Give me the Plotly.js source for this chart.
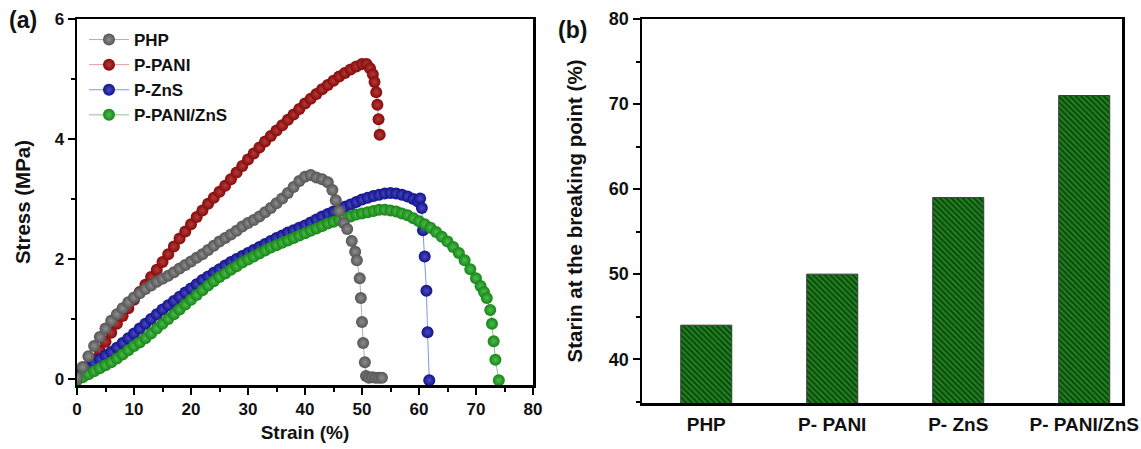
<!DOCTYPE html>
<html>
<head>
<meta charset="utf-8">
<script src="https://cdn.plot.ly/plotly-3.0.1.min.js"></script>
<style>html,body{margin:0;padding:0;background:#fff;}#chart{width:1141px;height:449px;}</style>
</head>
<body>
<div id="chart"></div>
<script>
// ---- Data ----
const phpStrain = [0,1,2,3,4,5,6,7,8,9,10,11,12,13,14,15,16,17,18,19,20,21,22,23,24,25,26,27,28,29,30,31,32,33,34,35,36,37,38,39,40,41,42,43,44,44.8,45.4,46,46.8,47.4,48.2,48.8,49.1,49.6,49.8,50.0,50.2,50.5,50.7,51.2,51.8,52.4,53.0,53.5];
const phpStress = [0.02,0.2,0.38,0.55,0.7,0.84,0.97,1.08,1.18,1.28,1.36,1.43,1.5,1.56,1.62,1.67,1.72,1.78,1.84,1.9,1.96,2.02,2.08,2.15,2.22,2.29,2.35,2.41,2.47,2.54,2.6,2.65,2.71,2.78,2.85,2.93,3.01,3.1,3.2,3.3,3.37,3.4,3.36,3.33,3.28,3.15,2.98,2.8,2.6,2.5,2.3,2.12,1.98,1.68,1.35,0.95,0.6,0.28,0.05,0.02,0.03,0.02,0.02,0.02];

const paniStrain = [0,1,2,3,4,5,6,7,8,9,10,11,12,13,14,15,16,17,18,19,20,21,22,23,24,25,26,27,28,29,30,31,32,33,34,35,36,37,38,39,40,41,42,43,44,45,46,47,48,49,50,50.8,51.4,51.9,52.2,52.5,52.7,52.9,53.1];
const paniStress = [0.05,0.12,0.22,0.33,0.47,0.62,0.77,0.92,1.05,1.18,1.32,1.45,1.57,1.7,1.82,1.95,2.08,2.21,2.34,2.46,2.58,2.7,2.81,2.92,3.02,3.12,3.22,3.33,3.44,3.55,3.66,3.76,3.86,3.96,4.05,4.14,4.23,4.32,4.41,4.5,4.59,4.67,4.75,4.83,4.9,4.97,5.04,5.1,5.16,5.21,5.25,5.25,5.18,5.08,4.95,4.78,4.57,4.33,4.07];

const znsStrain = [0,1,2,3,4,5,6,7,8,9,10,11,12,13,14,15,16,17,18,19,20,21,22,23,24,25,26,27,28,29,30,31,32,33,34,35,36,37,38,39,40,41,42,43,44,45,46,47,48,49,50,51,52,53,54,55,56,57,58,59,59.8,60.2,60.5,60.7,61.0,61.3,61.5,61.8];
const znsStress = [0.05,0.12,0.2,0.27,0.33,0.39,0.45,0.52,0.6,0.68,0.76,0.84,0.92,1.0,1.08,1.16,1.23,1.3,1.37,1.44,1.51,1.58,1.65,1.71,1.77,1.83,1.89,1.95,2.0,2.05,2.1,2.15,2.2,2.25,2.3,2.35,2.39,2.44,2.48,2.52,2.56,2.61,2.66,2.71,2.75,2.79,2.83,2.87,2.91,2.95,2.99,3.02,3.05,3.07,3.09,3.1,3.09,3.07,3.04,3.0,2.96,3.01,2.85,2.48,2.04,1.47,0.78,-0.02];

const pzStrain = [0,1,2,3,4,5,6,7,8,9,10,11,12,13,14,15,16,17,18,19,20,21,22,23,24,25,26,27,28,29,30,31,32,33,34,35,36,37,38,39,40,41,42,43,44,45,46,47,48,49,50,51,52,53,54,55,56,57,58,59,60,61,62,63,64,65,66,67,68,69,70,70.8,71.4,71.9,72.5,72.8,73.1,73.4,74.0];
const pzStress = [-0.02,0.03,0.08,0.13,0.18,0.23,0.28,0.34,0.41,0.48,0.55,0.61,0.68,0.76,0.84,0.92,1.0,1.08,1.16,1.24,1.32,1.4,1.48,1.56,1.63,1.7,1.76,1.82,1.88,1.94,1.99,2.04,2.09,2.14,2.19,2.23,2.27,2.31,2.35,2.39,2.43,2.47,2.51,2.55,2.59,2.62,2.65,2.68,2.71,2.74,2.76,2.78,2.8,2.82,2.82,2.81,2.79,2.76,2.73,2.68,2.63,2.58,2.52,2.45,2.37,2.29,2.2,2.1,1.98,1.83,1.68,1.55,1.45,1.35,1.15,0.92,0.63,0.32,-0.02];

const barCategories = ["PHP", "P- PANI", "P- ZnS", "P- PANI/ZnS"];
const barValues = [44, 50, 59, 71];

const seriesNames = ["PHP", "P-PANI", "P-ZnS", "P-PANI/ZnS"];

// ---- Styles ----
const FONT = "Liberation Sans, Arial, Helvetica, sans-serif";
function curve(name, x, y, dark, light, lineColor, rank) {
  return {
    type: "scatter", mode: "lines+markers", name: name, x: x, y: y,
    xaxis: "x", yaxis: "y", legendrank: rank,
    line: {color: lineColor, width: 1},
    marker: {size: 12, color: dark, line: {width: 0},
             gradient: {type: "radial", color: light}}
  };
}
const traces = [
  curve(seriesNames[1], paniStrain, paniStress, "#850a0a", "#b63a3a", "#e29a9a", 2),
  curve(seriesNames[2], znsStrain, znsStress, "#12128a", "#4a4ac4", "#7f9ad8", 3),
  curve(seriesNames[3], pzStrain, pzStress, "#178617", "#4cbc4c", "#86c886", 4),
  curve(seriesNames[0], phpStrain, phpStress, "#555555", "#8e8e8e", "#b0b0b0", 1),
  {
    type: "bar", x: barCategories, y: barValues, xaxis: "x2", yaxis: "y2",
    width: 0.405, showlegend: false, base: 0,
    marker: {color: "#1c7c1c", line: {color: "#3a3a3a", width: 1},
             pattern: {shape: "\\", fgcolor: "#0b3f0b", bgcolor: "#1f801f", size: 4, solidity: 0.4}}
  }
];

const axisCommon = {
  showline: true, linecolor: "#000", linewidth: 2.5, mirror: true,
  showgrid: false, zeroline: false,
  ticks: "outside", ticklen: 7, tickwidth: 2, tickcolor: "#000",
  tickfont: {family: FONT, size: 17, color: "#111", weight: "bold"}
};

const layout = {
  width: 1141, height: 449,
  margin: {l: 0, r: 0, t: 0, b: 0},
  paper_bgcolor: "#fff", plot_bgcolor: "#fff",
  font: {family: FONT, weight: "bold", color: "#111"},
  showlegend: true,
  legend: {x: 84/1141, y: 1 - 22/449, xanchor: "left", yanchor: "top",
           bgcolor: "rgba(0,0,0,0)", borderwidth: 0, itemwidth: 40,
           font: {family: FONT, size: 17, color: "#111", weight: "bold"}},
  xaxis: Object.assign({}, axisCommon, {
    domain: [77/1141, 533/1141], range: [0, 80], dtick: 10, tick0: 0,
    anchor: "y", ticklabelstandoff: 0,
    minor: {ticks: "outside", dtick: 5, tick0: 0, ticklen: 4, tickwidth: 2, tickcolor: "#000", showgrid: false},
    title: {text: "Strain (%)", font: {family: FONT, size: 19, weight: "bold", color: "#111"}, standoff: 8}
  }),
  yaxis: Object.assign({}, axisCommon, {
    domain: [1 - 385/449, 1 - 19/449], range: [-0.1, 6], dtick: 2, tick0: 0,
    anchor: "x",
    minor: {ticks: "outside", dtick: 1, tick0: 0, ticklen: 4, tickwidth: 2, tickcolor: "#000", showgrid: false},
    title: {text: "Stress (MPa)", font: {family: FONT, size: 20.5, weight: "bold", color: "#111"}, standoff: 19}
  }),
  xaxis2: Object.assign({}, axisCommon, {
    domain: [642/1141, 1122/1141], range: [-0.51, 3.3], type: "category",
    anchor: "y2", ticklen: 3, tickcolor: "rgba(0,0,0,0)",
    tickfont: {family: FONT, size: 19, color: "#111", weight: "bold"}
  }),
  yaxis2: Object.assign({}, axisCommon, {
    domain: [1 - 403/449, 1 - 19/449], range: [34.85, 80], dtick: 10, tick0: 0,
    anchor: "x2",
    tickfont: {family: FONT, size: 18, color: "#111", weight: "bold"},
    minor: {ticks: "outside", dtick: 5, tick0: 0, ticklen: 4, tickwidth: 2, tickcolor: "#000", showgrid: false},
    title: {text: "Starin at the breaking point (%)", font: {family: FONT, size: 20.5, weight: "bold", color: "#111"}, standoff: 21}
  }),
  annotations: [
    {text: "(a)", xref: "paper", yref: "paper", x: 7/1141, y: 1 - 20/449, xanchor: "left", yanchor: "middle",
     showarrow: false, font: {family: FONT, size: 23, weight: "bold", color: "#111"}},
    {text: "(b)", xref: "paper", yref: "paper", x: 556/1141, y: 1 - 30/449, xanchor: "left", yanchor: "middle",
     showarrow: false, font: {family: FONT, size: 23, weight: "bold", color: "#111"}}
  ]
};

Plotly.newPlot("chart", traces, layout, {displayModeBar: false, staticPlot: true});
</script>
</body>
</html>
